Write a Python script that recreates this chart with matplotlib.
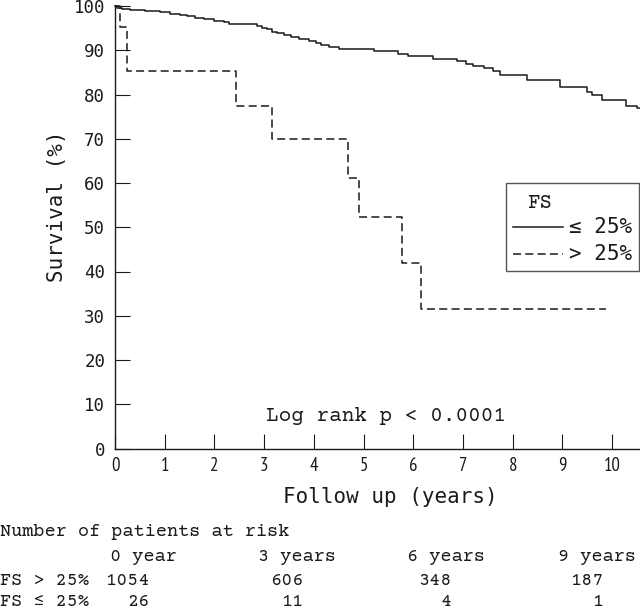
import matplotlib
matplotlib.use("Agg")
import matplotlib.pyplot as plt
from matplotlib.lines import Line2D
from matplotlib.patches import Rectangle

# ---- data ----
t_low = [0, 0.05, 0.15, 0.3, 0.6, 0.9, 1.1, 1.3, 1.45, 1.6, 1.8, 2.0, 2.2, 2.3,
         2.85, 2.95, 3.05, 3.15, 3.25, 3.4, 3.55, 3.7, 3.9, 4.05, 4.15, 4.3, 4.5,
         5.2, 5.7, 5.9, 6.4, 6.87, 7.07, 7.2, 7.42, 7.6, 7.75, 8.28, 8.95, 9.5,
         9.6, 9.8, 10.28, 10.5, 10.56]
s_low = [100, 99.6, 99.3, 99.1, 98.9, 98.6, 98.3, 98.0, 97.7, 97.4, 97.0, 96.7, 96.3, 95.9,
         95.5, 95.1, 94.7, 94.2, 93.8, 93.5, 93.0, 92.5, 92.2, 91.6, 91.2, 90.8, 90.3,
         89.8, 89.1, 88.6, 88.0, 87.6, 86.9, 86.5, 85.9, 85.4, 84.4, 83.3, 81.6, 80.5,
         79.8, 78.8, 77.4, 77.0, 77.0]
t_high = [0, 0.1, 0.24, 2.44, 3.15, 4.69, 4.91, 5.77, 6.15, 9.88]
s_high = [100, 95.2, 85.3, 77.4, 69.9, 61.2, 52.4, 41.9, 31.6, 31.6]

x_ticks = list(range(0, 11))
y_ticks = list(range(0, 101, 10))

risk_headers = ["0 year", "3 years", "6 years", "9 years"]
risk_groups = ["FS > 25%", "FS \u2264 25%"]
risk_high = [1054, 606, 348, 187]
risk_low = [26, 11, 4, 1]

legend_title = "FS"
legend_labels = ["\u2264 25%", "> 25%"]

# ---- figure ----
W, H = 640, 610
plt.rcParams['lines.scale_dashes'] = False
fig = plt.figure(figsize=(W / 100, H / 100), dpi=100)

def fx(px):
    return px / W

def fy(py):
    return 1 - py / H

left, right, top, bottom = 115, 640, 6, 448.5
ax = fig.add_axes([fx(left), fy(bottom), (right - left) / W, (bottom - top) / H])

ink = "#1a1a1a"
dash = (0, (8 / 1.389, 4.3 / 1.389))
ax.step(t_low, s_low, where="post", color=ink, lw=1.1, clip_on=False)
ax.step(t_high, s_high, where="post", color=ink, lw=1.1, linestyle=dash, clip_on=False)

ax.set_xlim(0, 10.56)
ax.set_ylim(0, 100)
for s in ["top", "right"]:
    ax.spines[s].set_visible(False)
for s in ["left", "bottom"]:
    ax.spines[s].set_color(ink)
    ax.spines[s].set_linewidth(1.0)

ax.set_xticks(x_ticks)
ax.set_yticks(y_ticks)
ax.tick_params(axis="both", direction="in", length=11, width=0.8, color=ink)
ax.tick_params(axis="x", pad=6)
ax.tick_params(axis="y", pad=7)
for lab in ax.get_xticklabels():
    lab.set_family(["PT Sans Narrow", "DejaVu Sans"])
    lab.set_fontsize(13.5)
    lab.set_color(ink)
for lab in ax.get_yticklabels():
    lab.set_family(["DejaVu Sans Mono"])
    lab.set_fontsize(12.5)
    lab.set_color(ink)

mono = ["DejaVu Sans Mono"]
courier = ["Courier Prime", "FreeMono", "DejaVu Sans Mono"]

fig.text(fx(390.5), fy(497), "Follow up (years)", family=mono, fontsize=15,
         ha="center", va="center", color=ink)
fig.text(fx(57), fy(206), "Survival (%)", family=mono, fontsize=15, rotation=90,
         ha="center", va="center", color=ink)

fig.text(fx(385.5), fy(421), "Log rank p < 0.0001", family=courier, fontsize=15.2,
         ha="center", va="baseline", color=ink)

# legend (manual box)
fig.add_artist(Rectangle((fx(506), fy(271)), (639 - 506) / W, (271 - 183) / H,
                         transform=fig.transFigure, facecolor="white",
                         edgecolor="#555555", lw=1.0))
fig.text(fx(527), fy(208), legend_title, family=courier, fontsize=15, ha="left",
         va="baseline", color=ink)
fig.add_artist(Line2D([fx(513), fx(563)], [fy(227), fy(227)], color=ink, lw=1.1,
                      transform=fig.transFigure))
fig.add_artist(Line2D([fx(513), fx(563)], [fy(254), fy(254)], color=ink, lw=1.1,
                      linestyle=dash, transform=fig.transFigure))
fig.text(fx(569), fy(227), legend_labels[0], family=mono, fontsize=15, ha="left",
         va="center", color=ink)
fig.text(fx(569), fy(254), legend_labels[1], family=mono, fontsize=15, ha="left",
         va="center", color=ink)

# risk table
fs_tab = 13.4
fig.text(fx(0), fy(536), "Number of patients at risk", family=courier,
         fontsize=fs_tab, ha="left", va="baseline", color=ink)
head_x = [110, 258, 407, 558]
val_x = [150, 303, 452, 603]
for hx, h in zip(head_x, risk_headers):
    fig.text(fx(hx), fy(561), h, family=courier, fontsize=fs_tab, ha="left",
             va="baseline", color=ink)
for row_y, grp, vals in zip([585, 606], risk_groups, [risk_high, risk_low]):
    fig.text(fx(0), fy(row_y), grp, family=courier, fontsize=fs_tab, ha="left",
             va="baseline", color=ink)
    for vx, v in zip(val_x, vals):
        fig.text(fx(vx), fy(row_y), str(v), family=courier, fontsize=fs_tab,
                 ha="right", va="baseline", color=ink)

fig.savefig("out.png", dpi=100)
